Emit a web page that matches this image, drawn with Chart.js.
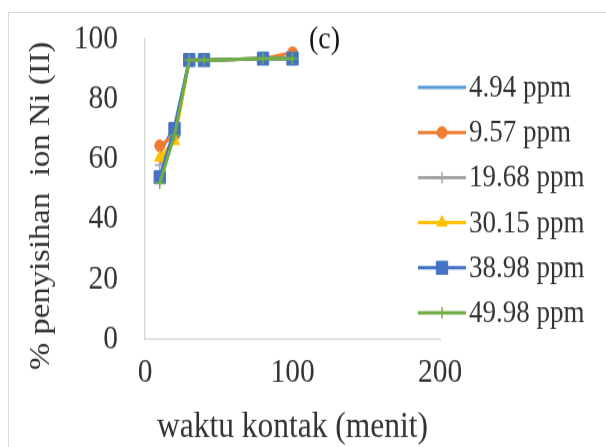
<!DOCTYPE html>
<html>
<head>
<meta charset="utf-8">
<script src="https://cdn.jsdelivr.net/npm/chart.js@4/dist/chart.umd.min.js"></script>
<style>
  html, body { margin: 0; padding: 0; background: #ffffff; overflow: hidden; }
  #frame {
    position: absolute; left: 8px; top: 12px; width: 700px; height: 500px;
    border: 1px solid #d9d9d9; box-sizing: border-box;
  }
  #wrap {
    position: absolute; left: 0; top: 0; width: 606px; height: 389px;
    transform: scaleY(1.15); transform-origin: 0 0;
  }
  #chart { display: block; }
</style>
</head>
<body>
<div id="frame"></div>
<div id="wrap"><canvas id="chart" width="606" height="389"></canvas></div>
<script>
// Contact time (minutes)
const contactTimes = [10, 20, 30, 40, 80, 100];

// Ni(II) removal (%) for each initial concentration
const removal494 = [62, 71, 93, 93, 93.5, 93.5];
const removal957 = [64.5, 68, 93, 93, 93.5, 95.5];
const removal1968 = [58, 67, 93, 93, 93.5, 93.5];
const removal3015 = [60.5, 66, 93, 93, 93.5, 93.5];
const removal3898 = [54, 70, 93, 93, 93.5, 93.5];
const removal4998 = [52, 68, 93, 93, 93.5, 93.5];

const seriesLabels = ['4.94 ppm', '9.57 ppm', '19.68 ppm', '30.15 ppm', '38.98 ppm', '49.98 ppm'];
const seriesValues = [removal494, removal957, removal1968, removal3015, removal3898, removal4998];
const seriesColors = ['#5B9BD5', '#ED7D31', '#A5A5A5', '#FFC000', '#4472C4', '#70AD47'];
const seriesMarkers = [false, 'circle', 'cross', 'triangle', 'rect', 'cross'];
const markerSizes = [0, 5, 5, 6, 8, 5];

const yTicks = [0, 20, 40, 60, 80, 100];
const xTicks = [0, 100, 200];

const yTitle = '% penyisihan  ion Ni (II)';
const xTitle = 'waktu kontak (menit)';
const panelTag = '(c)';

const serif = '"Liberation Serif", "Times New Roman", serif';
const textColor = '#333333';

const datasets = seriesValues.map((vals, i) => ({
  label: seriesLabels[i],
  data: vals.map((v, j) => ({ x: contactTimes[j], y: v })),
  borderColor: seriesColors[i],
  backgroundColor: seriesColors[i],
  borderWidth: 3,
  pointStyle: seriesMarkers[i],
  pointRadius: markerSizes[i],
  pointBorderWidth: seriesMarkers[i] === 'cross' ? 1.5 : 1,
  pointBorderColor: seriesColors[i],
  pointBackgroundColor: seriesColors[i],
  tension: 0,
  order: seriesValues.length - i   // later series drawn on top
}));

// Right-hand legend (line + marker + label), the vertical axis title and the panel tag
const sideLegend = {
  id: 'sideLegend',
  afterDraw(chart) {
    const ctx = chart.ctx;
    const x0 = 418, x1 = 466, startY = 76, step = 39.2;
    chart.data.datasets.forEach((ds, i) => {
      const y = startY + i * step;
      ctx.save();
      ctx.strokeStyle = ds.borderColor;
      ctx.lineWidth = 3;
      ctx.beginPath();
      ctx.moveTo(x0, y);
      ctx.lineTo(x1, y);
      ctx.stroke();
      if (ds.pointStyle) {
        ctx.fillStyle = ds.pointBackgroundColor;
        ctx.strokeStyle = ds.pointBorderColor;
        ctx.lineWidth = ds.pointBorderWidth;
        Chart.helpers.drawPoint(ctx, {
          pointStyle: ds.pointStyle, radius: ds.pointRadius, rotation: 0, borderWidth: ds.pointBorderWidth
        }, (x0 + x1) / 2, y);
      }
      ctx.fillStyle = textColor;
      ctx.font = '27px ' + serif;
      ctx.textBaseline = 'middle';
      ctx.textAlign = 'left';
      ctx.fillText(ds.label, x1 + 3, y + 1);
      ctx.restore();
    });

    ctx.save();
    ctx.fillStyle = textColor;
    ctx.font = '28.5px ' + serif;
    ctx.textBaseline = 'middle';
    ctx.textAlign = 'center';
    ctx.translate(42, 179);
    ctx.rotate(-Math.PI / 2);
    ctx.fillText(yTitle, 0, 0);
    ctx.restore();

    ctx.save();
    ctx.fillStyle = '#111111';
    ctx.font = '28px ' + serif;
    ctx.textBaseline = 'middle';
    ctx.textAlign = 'left';
    ctx.fillText(panelTag, 309, 35);
    ctx.restore();
  }
};

new Chart(document.getElementById('chart'), {
  type: 'line',
  data: { datasets },
  plugins: [sideLegend],
  options: {
    responsive: false,
    animation: false,
    devicePixelRatio: 1,
    layout: { padding: { left: 0, right: 166, top: 34, bottom: 0 } },
    plugins: { legend: { display: false }, tooltip: { enabled: false } },
    scales: {
      x: {
        type: 'linear',
        min: 0, max: 200,
        afterBuildTicks(scale) { scale.ticks = xTicks.map(v => ({ value: v })); },
        afterFit(scale) { scale.height = 94; },
        grid: { drawOnChartArea: false, drawTicks: false },
        border: { color: '#d9d9d9', width: 1.5 },
        ticks: { color: textColor, padding: 12, font: { family: serif, size: 29.5 } },
        title: {
          display: true, text: xTitle, color: textColor,
          font: { family: serif, size: 31.5, lineHeight: 1 }, padding: { top: 0, bottom: 2 }
        }
      },
      y: {
        min: 0, max: 100,
        afterBuildTicks(scale) { scale.ticks = yTicks.map(v => ({ value: v })); },
        afterFit(scale) {
          scale.width = 145;
          // label gap should not push the plot area down
          scale.paddingTop = 17;
          scale.paddingBottom = 17;
        },
        grid: { drawOnChartArea: false, drawTicks: false },
        border: { color: '#d9d9d9', width: 1.5 },
        ticks: { color: textColor, padding: 27, font: { family: serif, size: 29.5 } },
        title: { display: false }
      }
    }
  }
});
</script>
</body>
</html>
